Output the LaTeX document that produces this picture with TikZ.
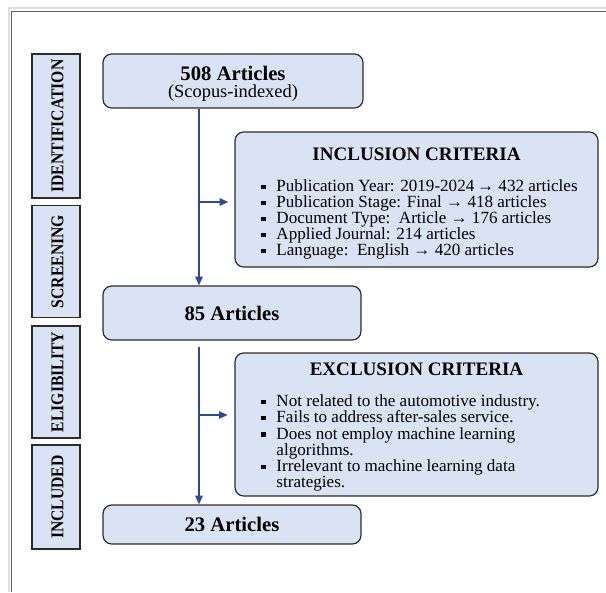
\documentclass[tikz,border=0pt]{standalone}
\usepackage{fontspec}
\setmainfont{Liberation Serif}
\usetikzlibrary{arrows.meta}
\definecolor{boxfill}{HTML}{DAE3F3}
\definecolor{boxline}{HTML}{2B2B2B}
\definecolor{arrowblue}{HTML}{2F4B8C}
\definecolor{framecol}{HTML}{56637F}
\newcommand\sqbullet{\raisebox{0.28ex}{\rule{3.4pt}{3.4pt}}}
\tikzset{
  mainbox/.style={draw=boxline, line width=0.9pt, fill=boxfill, rounded corners=6.5pt, inner sep=0pt, align=center},
  critbox/.style={draw=boxline, line width=0.9pt, fill=boxfill, rounded corners=6.5pt, inner sep=0pt},
  sidebox/.style={draw=boxline, line width=0.9pt, fill=boxfill, inner sep=0pt, minimum width=36pt},
  sidelabel/.style={rotate=90, inner sep=0pt, font=\fontsize{13.5}{14}\selectfont\bfseries},
  crittitle/.style={inner sep=0pt, anchor=base, font=\fontsize{14.3}{16}\selectfont\bfseries},
  critline/.style={inner sep=0pt, anchor=base west, text height=8.8pt, text depth=2.4pt, font=\fontsize{12.8}{14}\selectfont},
  flow/.style={draw=arrowblue, line width=1.1pt, -{Triangle[length=6.5pt,width=5.5pt]}},
}
\begin{document}
\begin{tikzpicture}[x=0.75pt,y=-0.75pt]
\useasboundingbox (0,0) rectangle (606,592);
% outer frame
\draw[gray!25, line width=1.5pt] (8.5,592) -- (8.5,8.5) -- (606,8.5);
\draw[framecol, line width=1.3pt] (11.5,592) -- (11.5,11.5) -- (606,11.5);

% side phase boxes
\node[sidebox, minimum height=108pt] (sid) at (56,126) {};
\node[sidelabel] (lid) at (57.5,126) {\scalebox{0.87}[1]{IDENTIFICATION}};
\node[sidebox, minimum height=84pt] (sscr) at (56,261.5) {};
\node[sidelabel] (lscr) at (57.5,261.5) {\scalebox{0.87}[1]{SCREENING}};
\node[sidebox, minimum height=84pt] (selig) at (56,382) {};
\node[sidelabel] (lelig) at (57.5,382) {\scalebox{0.87}[1]{ELIGIBILITY}};
\node[sidebox, minimum height=78pt] (sincl) at (56,497) {};
\node[sidelabel] (lincl) at (57.5,497) {\scalebox{0.87}[1]{INCLUDED}};

% main flow boxes
\node[mainbox, minimum width=195pt, minimum height=40.5pt] (b508) at (233,81) {};
\node[inner sep=0pt, font=\fontsize{15.5}{15}\selectfont\bfseries] (t508) at (233,73) {508 Articles};
\node[inner sep=0pt, font=\fontsize{13.8}{15}\selectfont] (t508b) at (233,93) {(Scopus-indexed)};
\node[mainbox, minimum width=193.5pt, minimum height=40.5pt, font=\fontsize{15.5}{17}\selectfont\bfseries] (b85) at (232,313) {85 Articles};
\node[mainbox, minimum width=193.5pt, minimum height=29.25pt, font=\fontsize{15.5}{17}\selectfont\bfseries] (b23) at (232,524.5) {23 Articles};

% inclusion criteria
\node[critbox, minimum width=272.25pt, minimum height=101.25pt] (inc) at (416.5,199.5) {};
\node[crittitle] (inct) at (416.5,160) {INCLUSION CRITERIA};
\node[critline] (inc1) at (261,191.5) {\sqbullet\hspace{8pt}Publication Year: 2019-2024\,→ 432 articles};
\node[critline] (inc2) at (261,207.5) {\sqbullet\hspace{8pt}Publication Stage: Final → 418 articles};
\node[critline] (inc3) at (261,223.5) {\sqbullet\hspace{8pt}Document Type:\ \ Article → 176 articles};
\node[critline] (inc4) at (261,239.5) {\sqbullet\hspace{8pt}Applied Journal: 214 articles};
\node[critline] (inc5) at (261,255.5) {\sqbullet\hspace{8pt}Language:\ \ English → 420 articles};

% exclusion criteria
\node[critbox, minimum width=272.25pt, minimum height=107.25pt] (exc) at (416.5,424.5) {};
\node[crittitle] (exct) at (416.5,375) {EXCLUSION CRITERIA};
\node[critline] (exc1) at (261,406.5) {\sqbullet\hspace{8pt}Not related to the automotive industry.};
\node[critline] (exc2) at (261,422.5) {\sqbullet\hspace{8pt}Fails to address after-sales service.};
\node[critline] (exc3) at (261,439) {\sqbullet\hspace{8pt}Does not employ machine learning};
\node[critline] (exc3b) at (261,455) {\phantom{\sqbullet}\hspace{8pt}algorithms.};
\node[critline] (exc4) at (261,471.5) {\sqbullet\hspace{8pt}Irrelevant to machine learning data};
\node[critline] (exc4b) at (261,487.5) {\phantom{\sqbullet}\hspace{8pt}strategies.};

% connectors
\coordinate (spine1) at (199,202);
\coordinate (spine2) at (199,415);
\draw[flow] (b508.south -| spine1) -- (b85.north -| spine1);
\draw[flow, shorten >=4.5pt] (spine1) -- (inc.west |- spine1);
\draw[flow, shorten <=4.5pt] (b85.south -| spine2) -- (b23.north -| spine2);
\draw[flow, shorten >=5pt] (spine2) -- (exc.west |- spine2);
\end{tikzpicture}
\end{document}
